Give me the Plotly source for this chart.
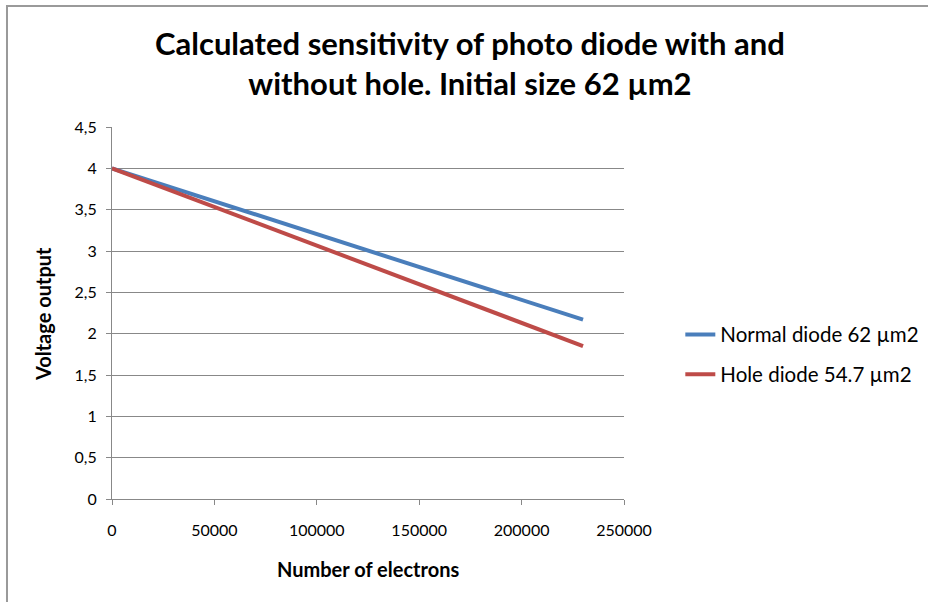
import plotly.graph_objects as go

electrons = [0, 230000]
normal_v = [4.0, 2.17]
hole_v = [4.0, 1.85]
names = ["Normal diode 62 µm2", "Hole diode 54.7 µm2"]
colors = ["#4a7ebb", "#be4b48"]
x_ticks = [0, 50000, 100000, 150000, 200000, 250000]
y_ticks = [0, 0.5, 1, 1.5, 2, 2.5, 3, 3.5, 4, 4.5]
y_labels = ["0", "0,5", "1", "1,5", "2", "2,5", "3", "3,5", "4", "4,5"]
title_text = "Calculated sensitivity of photo diode with and<br>without hole. Initial size 62 µm2"
x_title = "Number of electrons"
y_title = "Voltage output"

FONT = "Lato"
GRID = "#888888"

fig = go.Figure()
fig.add_trace(go.Scatter(x=electrons, y=normal_v, mode="lines", name=names[0], legendgroup="a",
                         line=dict(color=colors[0], width=4)))
fig.add_trace(go.Scatter(x=electrons, y=hole_v, mode="lines", name=names[1], legendgroup="b",
                         line=dict(color=colors[1], width=4)))

fig.update_layout(
    width=928, height=602,
    margin=dict(l=112, r=304, t=127, b=103, autoexpand=False),
    paper_bgcolor="white", plot_bgcolor="white",
    font=dict(family=FONT, size=16, color="#000000"),
    showlegend=True,
    legend=dict(x=1.11, y=0.388, xanchor="left", yanchor="middle", xref="paper",
                font=dict(family=FONT, size=20.5, color="#000000"),
                bgcolor="rgba(0,0,0,0)", tracegroupgap=10, itemwidth=30),
    xaxis=dict(range=[0, 250000], tickvals=x_ticks, ticktext=[str(v) for v in x_ticks],
               showgrid=False, zeroline=False, showline=True, linecolor=GRID, linewidth=1,
               ticks="outside", ticklen=5, tickcolor=GRID, ticklabelstandoff=12,
               tickfont=dict(family=FONT, size=16)),
    yaxis=dict(range=[0, 4.5], tickvals=y_ticks, ticktext=y_labels,
               showgrid=True, gridcolor=GRID, gridwidth=1, zeroline=False,
               showline=True, linecolor=GRID, linewidth=1,
               ticks="outside", ticklen=5, tickcolor=GRID, ticklabelstandoff=6,
               tickfont=dict(family=FONT, size=16)),
)

fig.add_annotation(text="<b>" + title_text + "</b>", xref="paper", yref="paper",
                   x=0.699, y=1.1707, xanchor="center", yanchor="middle", showarrow=False,
                   font=dict(family=FONT, size=31, color="#000000"))
fig.add_annotation(text="<b>" + x_title + "</b>", xref="paper", yref="paper",
                   x=0.5, y=-0.188, xanchor="center", yanchor="middle", showarrow=False,
                   font=dict(family=FONT, size=20, color="#000000"))
fig.add_annotation(text="<b>" + y_title + "</b>", xref="paper", yref="paper",
                   x=-0.1348, y=0.497, xanchor="center", yanchor="middle", showarrow=False,
                   textangle=-90, font=dict(family=FONT, size=20, color="#000000"))

fig.add_shape(type="rect", xref="paper", yref="paper", x0=-0.2051, x1=1.7, y0=-0.6, y1=1.3253,
              line=dict(color="#9a9a9a", width=2), fillcolor="rgba(0,0,0,0)", layer="below")

fig.write_html("out.html")
